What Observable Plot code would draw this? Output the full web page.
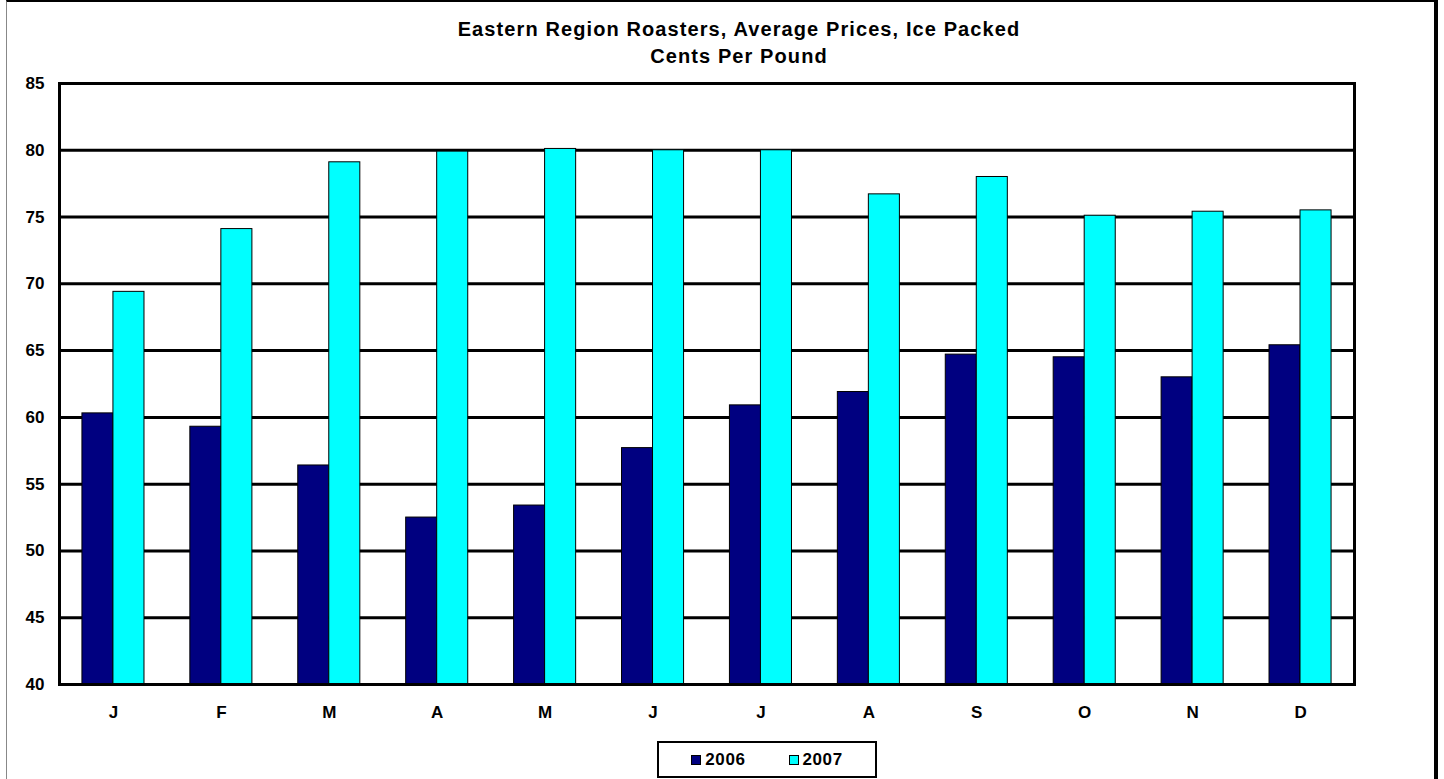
<!DOCTYPE html>
<html><head><meta charset="utf-8">
<script src="https://cdn.jsdelivr.net/npm/d3@7"></script>
<script src="https://cdn.jsdelivr.net/npm/@observablehq/plot@0.6"></script>
<style>
body{margin:0;background:#fff;font-family:"Liberation Sans",Arial,sans-serif;}
#wrap{position:relative;width:1444px;height:779px;overflow:hidden;background:#fff;}
#border{position:absolute;left:6px;top:0;width:1432px;height:800px;border-top:2px solid #000;border-left:1px solid #888;border-right:4px solid #000;box-sizing:border-box;}
#chart{position:absolute;left:0;top:0;}
#title{position:absolute;left:34px;width:1410px;top:16px;text-align:center;font-weight:bold;font-size:20px;letter-spacing:1.1px;line-height:27px;color:#000;}
#legend{position:absolute;left:657px;top:741px;width:220px;height:37px;border:2px solid #000;box-sizing:border-box;display:flex;align-items:center;justify-content:center;gap:43px;background:#fff;font-weight:bold;font-size:17px;letter-spacing:0.6px;}
#legend .item{display:flex;align-items:center;gap:4px;}
#legend .sw{width:10px;height:10px;border:1px solid #000;box-sizing:border-box;display:inline-block;}
svg text{font-weight:bold;}
</style>
</head><body>
<div id="wrap">
  <div id="border"></div>
  <div id="chart"></div>
  <div id="title">Eastern Region Roasters, Average Prices, Ice Packed<br>Cents Per Pound</div>
  <div id="legend"></div>
</div>
<script>
const months = ["J","F","M","A","M","J","J","A","S","O","N","D"];
const years = ["2006","2007"];
const colors = ["#000080","#00FFFF"];
const values2006 = [60.3,59.3,56.4,52.5,53.4,57.7,60.9,61.9,64.7,64.5,63.0,65.4];
const values2007 = [69.4,74.1,79.1,79.9,80.1,80.0,80.0,76.7,78.0,75.1,75.4,75.5];
const yTicks = [40,45,50,55,60,65,70,75,80,85];

const series = [values2006, values2007];
const data = [];
years.forEach((yr, k) => series[k].forEach((v, i) => data.push({i, year: yr, v})));
const yMin = yTicks[0];

const chart = Plot.plot({
  width: 1444,
  height: 730,
  marginLeft: 59,
  marginRight: 90,
  marginTop: 83,
  marginBottom: 46,
  style: {fontFamily: '"Liberation Sans", Arial, sans-serif', fontSize: "17px", fontWeight: "bold", color: "#000", background: "transparent", overflow: "visible"},
  x: {type: "band", domain: d3.range(months.length), paddingInner: 0.425, paddingOuter: 0.2125, round: false},
  y: {domain: [yTicks[0], yTicks[yTicks.length - 1]]},
  color: {domain: years, range: colors},
  marks: [
    Plot.ruleY(yTicks, {stroke: "#000", strokeWidth: 3}),
    Plot.barY(data.filter(d => d.year === years[0]), {x: "i", y1: yMin, y2: "v", fill: "year", stroke: "#000", strokeWidth: 1, insetRight: 31}),
    Plot.barY(data.filter(d => d.year === years[1]), {x: "i", y1: yMin, y2: "v", fill: "year", stroke: "#000", strokeWidth: 1, insetLeft: 31}),
    Plot.frame({stroke: "#000", strokeWidth: 3}),
    Plot.axisX({tickFormat: i => months[i], tickSize: 0, tickPadding: 21, label: null, fontSize: 17, fontWeight: "bold"}),
    Plot.axisY({ticks: yTicks, tickSize: 0, tickPadding: 15, label: null, fontSize: 17, fontWeight: "bold"})
  ]
});
document.getElementById("chart").appendChild(chart);

const legend = document.getElementById("legend");
years.forEach((yr, k) => {
  const item = document.createElement("div");
  item.className = "item";
  const sw = document.createElement("span");
  sw.className = "sw";
  sw.style.background = colors[k];
  const t = document.createElement("span");
  t.textContent = yr;
  item.appendChild(sw); item.appendChild(t);
  legend.appendChild(item);
});
</script>
</body></html>
